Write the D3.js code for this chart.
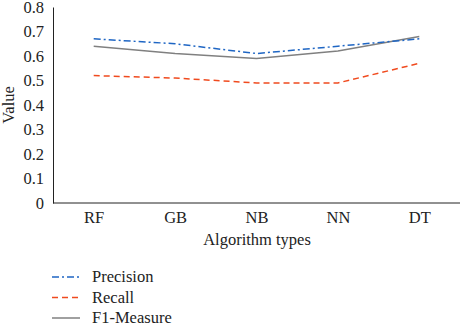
<!DOCTYPE html>
<html>
<head>
<meta charset="utf-8">
<script src="https://cdn.jsdelivr.net/npm/d3@7"></script>
<style>
  body { margin: 0; background: #fff; }
</style>
</head>
<body>
<div id="chart"></div>
<script>
const categories = ["RF", "GB", "NB", "NN", "DT"];
const precision = [0.67, 0.65, 0.61, 0.64, 0.67];
const recall = [0.52, 0.51, 0.49, 0.49, 0.57];
const f1Measure = [0.64, 0.61, 0.59, 0.62, 0.68];
const yTicks = [0, 0.1, 0.2, 0.3, 0.4, 0.5, 0.6, 0.7, 0.8];

const series = [
  { name: "Precision", values: precision, color: "#1f66c4", dash: "7,3,2,3" },
  { name: "Recall", values: recall, color: "#f04a1e", dash: "6,4" },
  { name: "F1-Measure", values: f1Measure, color: "#808080", dash: null }
];

const FONT = "'Liberation Serif', 'Times New Roman', 'DejaVu Serif', serif";
const FS = 16.5;
const width = 460;
const height = 323;
const margin = { top: 7, right: 0, bottom: 120, left: 53 };

const svg = d3.select("#chart")
  .append("svg")
  .attr("width", width)
  .attr("height", height)
  .attr("font-family", FONT);

const x = d3.scalePoint()
  .domain(categories)
  .range([margin.left, width - margin.right])
  .padding(0.5);

const y = d3.scaleLinear()
  .domain([0, 0.8])
  .range([height - margin.bottom, margin.top]);

const y0 = y(0);

// Y Axis
const yAxis = svg.append("g")
  .attr("transform", `translate(${margin.left},0)`)
  .call(d3.axisLeft(y).tickValues(yTicks).tickSize(0).tickPadding(9)
    .tickFormat(d => d === 0 ? "0" : d3.format(".1f")(d)));
yAxis.attr("font-family", FONT).attr("font-size", FS);
yAxis.select(".domain").attr("stroke", "#222").attr("stroke-width", 1);
yAxis.selectAll("text").attr("fill", "#222");

// X Axis
const xAxis = svg.append("g")
  .attr("transform", `translate(0,${y0})`)
  .call(d3.axisBottom(x).tickSize(0).tickPadding(8));
xAxis.attr("font-family", FONT).attr("font-size", FS);
xAxis.select(".domain").attr("stroke", "#222").attr("stroke-width", 1)
  .attr("d", `M${margin.left},0H${width}`);
xAxis.selectAll("text").attr("fill", "#222");

// X Axis Label
svg.append("text")
  .attr("x", 257)
  .attr("y", y0 + 42)
  .attr("text-anchor", "middle")
  .attr("font-size", FS)
  .attr("fill", "#222")
  .text("Algorithm types");

// Y Axis Label
svg.append("text")
  .attr("transform", "rotate(-90)")
  .attr("x", -(y0 + margin.top) / 2)
  .attr("y", 14)
  .attr("text-anchor", "middle")
  .attr("font-size", FS)
  .attr("fill", "#222")
  .text("Value");

// Lines
const line = d3.line()
  .x((d, i) => x(categories[i]))
  .y(d => y(d));

svg.selectAll(".series")
  .data(series.slice().reverse())
  .join("path")
  .attr("class", "series")
  .attr("fill", "none")
  .attr("stroke", d => d.color)
  .attr("stroke-width", 1.5)
  .attr("stroke-dasharray", d => d.dash)
  .attr("d", d => line(d.values));

// Legend
const legend = svg.append("g")
  .attr("transform", "translate(52,277)");

const items = legend.selectAll("g")
  .data(series)
  .join("g")
  .attr("transform", (d, i) => `translate(0,${i * 20.5})`);

items.append("line")
  .attr("x1", 0)
  .attr("x2", 28)
  .attr("stroke", d => d.color)
  .attr("stroke-width", 1.5)
  .attr("stroke-dasharray", d => d.dash);

items.append("text")
  .attr("x", 40)
  .attr("dy", "0.33em")
  .attr("font-size", FS)
  .attr("fill", "#222")
  .text(d => d.name);
</script>
</body>
</html>
